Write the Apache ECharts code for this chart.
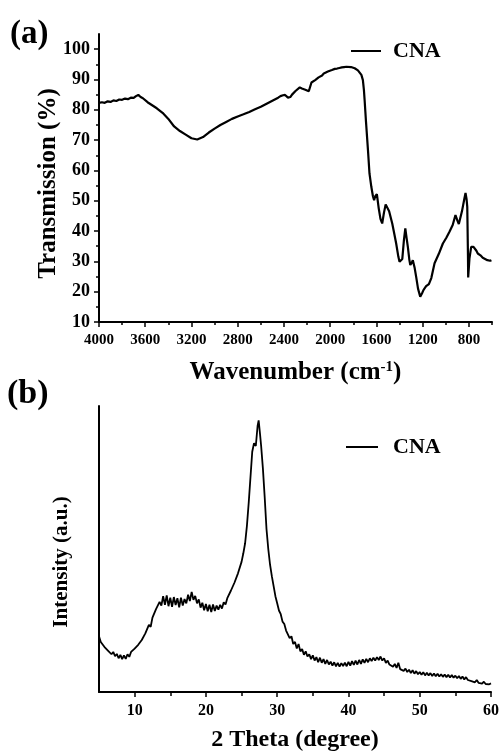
<!DOCTYPE html>
<html><head><meta charset="utf-8">
<script src="https://cdn.jsdelivr.net/npm/echarts@6/dist/echarts.min.js"></script>
<style>html,body{margin:0;padding:0;background:#fff}#c{width:502px;height:753px}</style>
</head><body><div id="c"></div>
<script>
// ---- (a) FTIR data ----
const ftirWavenumber = [4000,3975,3950,3925,3900,3875,3850,3825,3800,3775,3750,3725,3700,3680,3660,3640,3620,3580,3500,3450,3400,3350,3300,3250,3200,3150,3100,3050,3000,2950,2900,2850,2800,2750,2700,2650,2600,2550,2500,2450,2430,2408,2390,2380,2365,2356,2345,2330,2315,2300,2285,2263,2245,2230,2215,2200,2185,2177,2162,2145,2130,2115,2100,2085,2070,2055,2040,2020,2004,1985,1960,1940,1920,1900,1880,1860,1820,1788,1760,1745,1730,1717,1708,1702,1690,1680,1673,1660,1644,1630,1620,1610,1596,1580,1565,1550,1535,1520,1509,1490,1463,1445,1429,1410,1400,1385,1376,1362,1350,1340,1328,1315,1307,1295,1285,1270,1256,1240,1221,1205,1192,1170,1146,1125,1097,1060,1025,995,968,940,916,900,887,860,840,829,820,814,808,806,795,780,760,751,735,723,700,680,665,640,625,616,605];
const ftirTransmission = [82.3,82.5,82.3,82.8,82.6,83.1,82.9,83.4,83.3,83.7,83.5,84,83.9,84.5,84.9,84.2,83.8,82.5,80.5,79,77,74.5,73,71.8,70.6,70.2,71,72.5,73.8,75,76,77,77.8,78.5,79.3,80.2,81,82,83,84,84.5,84.8,84.9,84.5,84,83.5,84.2,85,85.5,86.2,86.5,87.4,87,87.1,86.6,86.8,86.1,86.3,89,89.3,89.8,90.4,90.7,91.2,91.3,92,92.3,92.6,93,93.1,93.5,93.6,93.8,94,94.1,94.2,94.1,93.7,93,92.5,91.5,89.8,86.5,83.2,76,70.5,66.7,59,54.6,51.5,50.2,51.5,52.2,47.5,44,42.5,46,48.8,49.2,46.5,42.5,39,35.9,31.5,29.9,30,30.8,37,40.9,38,34.8,30.5,28.8,29.5,30.4,28,24.9,21,18.3,19.5,20.6,21.8,22.5,24.5,29.4,32.5,35.9,37.8,39.8,42,45.3,43.5,42.3,46.5,50.5,52.6,50.5,48,32,24.7,31,34.8,34.8,34.3,33.5,32.6,32,31.2,31.3,30.4,30.8,30.2,30.4];
const ftirXTicks = [4000,3600,3200,2800,2400,2000,1600,1200,800];
const ftirXMinorTicks = [3800,3400,3000,2600,2200,1800,1400,1000,600];
const ftirYTicks = [10,20,30,40,50,60,70,80,90,100];
const ftirYMinorTicks = [15,25,35,45,55,65,75,85,95];

// ---- (b) XRD data ----
const xrdTwoTheta = [5,5.25,5.5,5.75,6,6.25,6.5,6.75,7,7.25,7.5,7.75,8,8.25,8.5,8.75,9,9.25,9.5,9.75,10,10.25,10.5,10.75,11,11.25,11.5,11.75,12,12.25,12.5,12.75,13,13.25,13.5,13.75,14,14.25,14.5,14.75,15,15.25,15.5,15.75,16,16.25,16.5,16.75,17,17.25,17.5,17.75,18,18.25,18.5,18.75,19,19.25,19.5,19.75,20,20.25,20.5,20.75,21,21.25,21.5,21.75,22,22.25,22.5,22.75,23,23.25,23.5,23.75,24,24.25,24.5,24.75,25,25.25,25.5,25.75,26,26.25,26.5,26.75,27,27.25,27.4,27.6,27.75,28,28.25,28.5,28.75,29,29.25,29.5,29.75,30,30.25,30.5,30.75,31,31.25,31.5,31.75,32,32.25,32.5,32.75,33,33.25,33.5,33.75,34,34.25,34.5,34.75,35,35.25,35.5,35.75,36,36.25,36.5,36.75,37,37.25,37.5,37.75,38,38.25,38.5,38.75,39,39.25,39.5,39.75,40,40.25,40.5,40.75,41,41.25,41.5,41.75,42,42.25,42.5,42.75,43,43.25,43.5,43.75,44,44.25,44.5,44.75,45,45.25,45.5,45.75,46,46.25,46.5,46.75,47,47.25,47.5,47.75,48,48.25,48.5,48.75,49,49.25,49.5,49.75,50,50.25,50.5,50.75,51,51.25,51.5,51.75,52,52.25,52.5,52.75,53,53.25,53.5,53.75,54,54.25,54.5,54.75,55,55.25,55.5,55.75,56,56.25,56.5,56.75,57,57.25,57.5,57.75,58,58.25,58.5,58.75,59,59.25,59.5,59.75,60];
const xrdIntensity = [19.5,17.5,18,15.8,16.2,14.5,15,13.2,14,12.5,13.3,11.8,13,11.5,12.8,11.6,13.2,12.3,14,13.4,15.2,14.6,16.5,16,18.2,17.6,20.5,20,23.5,22.8,26,25.5,29,28.5,31.5,30.2,33.5,30.5,33.8,30,33,29.8,33.2,30.4,32.8,29.6,33,30.2,32.5,31,34,31.8,35,32.2,33.6,31,32.4,29.5,31.2,28.6,30.8,28.2,30.5,28,30.6,28.3,30.2,28.8,30.5,29.2,31.4,30.6,32.8,33,35.4,35.6,38.2,38.4,41.5,42,45.5,48.5,52,58,66,75,84,87,86,93,95,90,86,78,68,57,50,44.5,40.5,37,33.5,31,28.5,27.2,24.6,23.8,21.5,21.2,18.8,19.5,16.8,17.5,15.2,16.8,14.2,15,13,14.2,12.4,13.2,11.5,12.8,11,12.2,10.4,12,10.2,11.5,9.8,11.2,9.6,10.6,9.2,10.4,9,10.2,8.9,10.1,9.1,10.3,9,10.5,9.2,10.8,9.5,11,9.6,11.2,9.8,11.4,10.2,11.6,10.4,11.8,10.8,12,11,12.2,11.2,12.4,11,11.8,10.2,11,9.6,10.2,8.8,9.8,8.4,10.2,8,8.6,7.4,8.2,7,7.8,6.6,7.6,6.4,7.3,6.2,7,6,6.9,5.8,6.7,5.8,6.6,5.6,6.5,5.5,6.4,5.4,6.2,5.3,6.1,5.2,6,5.1,5.9,5,5.7,4.8,5.6,4.6,5.4,4.4,5.2,4.2,4.8,3.8,4.4,3.4,4.2,3.2,3.8,2.9,3.6,2.8,3.4,2.7,3];
const xrdXTicks = [10,20,30,40,50,60];
const xrdXMinorTicks = [15,25,35,45,55];

const seriesName = 'CNA';
const FONT = '"Liberation Serif","Times New Roman",serif';

const ftirData = ftirWavenumber.map((w, i) => [w, ftirTransmission[i]]);
const xrdData = xrdTwoTheta.map((t, i) => [t, xrdIntensity[i]]);

const txt = (size) => ({ fontFamily: FONT, fontWeight: 'bold', fontSize: size, color: '#000' });
const axisLine = { show: true, onZero: false, lineStyle: { color: '#000', width: 2 } };
const plain = (v) => String(v);

function mainAxis(extra) {
  return Object.assign({
    type: 'value',
    axisLine: axisLine,
    splitLine: { show: false },
    nameLocation: 'middle',
    nameMoveOverlap: false,
    nameTextStyle: txt(24)
  }, extra);
}
function minorAxis(extra) {
  return Object.assign({
    type: 'value',
    axisLine: { show: false },
    axisLabel: { show: false },
    splitLine: { show: false }
  }, extra);
}

const chart = echarts.init(document.getElementById('c'), null, { renderer: 'canvas' });
chart.setOption({
  animation: false,
  backgroundColor: '#fff',
  title: [
    { text: '(a)', left: 10, top: 18, padding: 0, textStyle: txt(33) },
    { text: '(b)', left: 7, top: 377, padding: 0, textStyle: txt(34) }
  ],
  legend: [
    { data: [seriesName], icon: 'rect', left: 351, top: 40, padding: 0, itemWidth: 30, itemHeight: 2, textStyle: Object.assign(txt(22), { padding: [0, 0, 0, 7] }) },
    { data: [seriesName], icon: 'rect', left: 346, top: 436, padding: 0, itemWidth: 32, itemHeight: 2, textStyle: Object.assign(txt(22), { padding: [0, 0, 0, 10] }) }
  ],
  grid: [
    { left: 99, right: 10, top: 34, height: 288 },
    { left: 99, right: 10, top: 406, height: 288 }
  ],
  xAxis: [
    mainAxis({
      gridIndex: 0, position: 'bottom', min: 600, max: 4000, inverse: true,
      axisTick: { customValues: ftirXTicks, length: 5, lineStyle: { color: '#000', width: 1.5 } },
      axisLabel: { customValues: ftirXTicks, formatter: plain, margin: 11, ...txt(15) },
      name: 'Wavenumber (cm{sup|-1})', nameGap: 38,
      nameTextStyle: Object.assign(txt(25), { rich: { sup: Object.assign(txt(15), { verticalAlign: 'top', padding: [0, 0, 10, 0] }) } })
    }),
    minorAxis({
      gridIndex: 0, position: 'bottom', min: 600, max: 4000, inverse: true,
      axisTick: { customValues: ftirXMinorTicks, length: 3, lineStyle: { color: '#000', width: 1.5 } }
    }),
    mainAxis({
      gridIndex: 1, position: 'bottom', min: 5, max: 60,
      axisTick: { customValues: xrdXTicks, length: 5, lineStyle: { color: '#000', width: 1.5 } },
      axisLabel: { customValues: xrdXTicks, formatter: plain, margin: 11, ...txt(16) },
      name: '2 Theta (degree)', nameGap: 36, nameTextStyle: txt(24)
    }),
    minorAxis({
      gridIndex: 1, position: 'bottom', min: 5, max: 60,
      axisTick: { customValues: xrdXMinorTicks, length: 4, lineStyle: { color: '#000', width: 1.5 } }
    })
  ],
  yAxis: [
    mainAxis({
      gridIndex: 0, position: 'left', min: 10, max: 105,
      axisTick: { customValues: ftirYTicks, length: 5, lineStyle: { color: '#000', width: 1.5 } },
      axisLabel: { customValues: ftirYTicks, formatter: plain, margin: 9, ...txt(18) },
      name: 'Transmission (%)', nameGap: 38, nameRotate: 90,
      nameTextStyle: Object.assign(txt(25), { padding: [0, 11, 0, 0] })
    }),
    minorAxis({
      gridIndex: 0, position: 'left', min: 10, max: 105,
      axisTick: { customValues: ftirYMinorTicks, length: 3, lineStyle: { color: '#000', width: 1.5 } }
    }),
    mainAxis({
      gridIndex: 1, position: 'left', min: 0, max: 100,
      axisTick: { show: false },
      axisLabel: { show: false },
      name: 'Intensity (a.u.)', nameGap: 27, nameRotate: 90,
      nameTextStyle: Object.assign(txt(21), { padding: [0, 26, 0, 0] })
    })
  ],
  series: [
    {
      name: seriesName, type: 'line', xAxisIndex: 0, yAxisIndex: 0,
      data: ftirData, showSymbol: false, symbol: 'none',
      lineStyle: { color: '#000', width: 2.2 }, itemStyle: { color: '#000' }
    },
    {
      name: seriesName, type: 'line', xAxisIndex: 2, yAxisIndex: 2,
      data: xrdData, showSymbol: false, symbol: 'none',
      lineStyle: { color: '#000', width: 1.8 }, itemStyle: { color: '#000' }
    }
  ]
});
</script></body></html>
